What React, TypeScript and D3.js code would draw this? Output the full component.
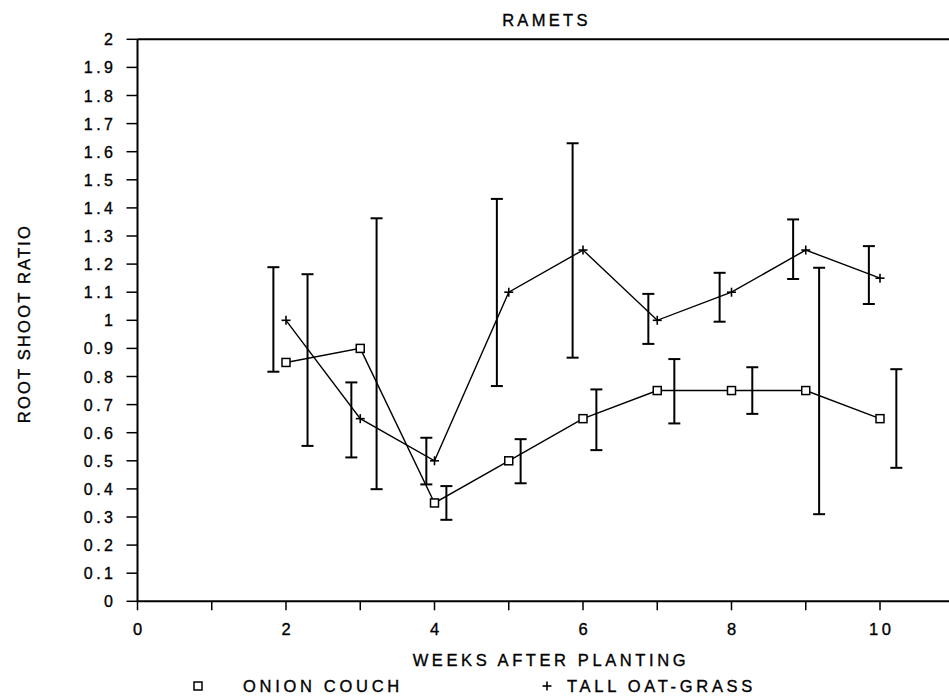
import React from "react";
import * as d3 from "d3";

const weeks = [2, 3, 4, 5, 6, 7, 8, 9, 10];
const onionCouch = [0.85, 0.9, 0.35, 0.5, 0.65, 0.75, 0.75, 0.75, 0.65];
const tallOatGrass = [1.0, 0.65, 0.5, 1.1, 1.25, 1.0, 1.1, 1.25, 1.15];

// error bars (drawn slightly offset in x, as in the original plot)
const onionBarX = [2.29, 3.22, 4.16, 5.16, 6.18, 7.23, 8.28, 9.18, 10.22];
const onionLo = [0.553, 0.399, 0.29, 0.42, 0.538, 0.633, 0.667, 0.31, 0.475];
const onionHi = [1.164, 1.363, 0.41, 0.577, 0.754, 0.862, 0.833, 1.187, 0.826];

const oatBarX = [1.83, 2.88, 3.89, 4.84, 5.86, 6.88, 7.84, 8.83, 9.85];
const oatLo = [0.817, 0.512, 0.416, 0.766, 0.867, 0.916, 0.995, 1.147, 1.058];
const oatHi = [1.189, 0.779, 0.582, 1.432, 1.63, 1.094, 1.169, 1.359, 1.264];

const xTicks = d3.range(0, 12, 1);
const xTickLabels = ["0", "2", "4", "6", "8", "10"];
const yTicks = d3.range(0, 21, 1).map((d) => d / 10);

const title = "RAMETS";
const xTitle = "WEEKS AFTER PLANTING";
const yTitle = "ROOT SHOOT RATIO";
const legendLabels = ["ONION COUCH", "TALL OAT-GRASS"];

export default function App() {
  const W = 949;
  const H = 697;
  const x = d3.scaleLinear().domain([0, 11]).range([137.5, 137.5 + 11 * 74.25]);
  const y = d3.scaleLinear().domain([0, 2]).range([601.3, 39.3]);
  const font = "'Liberation Sans', Arial, sans-serif";

  const line = d3
    .line<number>()
    .x((_, i) => x(weeks[i]))
    .y((d) => y(d));

  const cap = 6;
  const ls = 3.5;
  const ts = { stroke: "#000", strokeWidth: 0.35 };

  const bar = (bx: number, lo: number, hi: number, k: string) => (
    <g key={k} stroke="#000" strokeWidth={2} fill="none">
      <line x1={x(bx)} x2={x(bx)} y1={y(lo)} y2={y(hi)} />
      <line x1={x(bx) - cap} x2={x(bx) + cap} y1={y(lo)} y2={y(lo)} />
      <line x1={x(bx) - cap} x2={x(bx) + cap} y1={y(hi)} y2={y(hi)} />
    </g>
  );

  const square = (cx: number, cy: number, k: string) => (
    <rect key={k} x={cx - 4} y={cy - 4} width={8} height={8} fill="#fff" stroke="#000" strokeWidth={1.5} />
  );
  const plus = (cx: number, cy: number, k: string) => (
    <g key={k} stroke="#000" strokeWidth={1.6}>
      <line x1={cx - 4.5} x2={cx + 4.5} y1={cy} y2={cy} />
      <line x1={cx} x2={cx} y1={cy - 4.5} y2={cy + 4.5} />
    </g>
  );

  return (
    <svg
      width={W}
      height={H}
      style={{ position: "absolute", left: 0, top: 0, background: "#fff" }}
      fontFamily={font}
    >
      <rect x={0} y={0} width={W} height={H} fill="#fff" />
      {/* title */}
      <text x={544.7 + 1.75} y={26} textAnchor="middle" fontSize={16.5} letterSpacing={3.3} fill="#000" {...ts}>
        {title}
      </text>

      {/* axes */}
      <line x1={x(0)} x2={W} y1={y(2)} y2={y(2)} stroke="#000" strokeWidth={2} />
      <line x1={x(0)} x2={x(0)} y1={y(2)} y2={y(0)} stroke="#000" strokeWidth={2} />
      <line x1={x(0)} x2={W} y1={y(0)} y2={y(0)} stroke="#000" strokeWidth={2} />

      {yTicks.map((t) => (
        <g key={"yt" + t}>
          <line x1={x(0) - 11} x2={x(0)} y1={y(t)} y2={y(t)} stroke="#000" strokeWidth={1.5} />
          <text
            x={113 + ls}
            y={y(t) + 6}
            textAnchor="end"
            fontSize={16}
            letterSpacing={ls}
            fill="#000"
            {...ts}
          >
            {String(t)}
          </text>
        </g>
      ))}

      {xTicks.map((t) => (
        <line key={"xt" + t} x1={x(t)} x2={x(t)} y1={y(0)} y2={y(0) + 9} stroke="#000" strokeWidth={1.5} />
      ))}
      {xTickLabels.map((l) => (
        <text
          key={"xl" + l}
          x={x(+l) + ls / 2}
          y={635}
          textAnchor="middle"
          fontSize={16.5}
          letterSpacing={ls}
          fill="#000"
          {...ts}
        >
          {l}
        </text>
      ))}

      <text x={549 + 1.9} y={665.5} textAnchor="middle" fontSize={16.5} letterSpacing={3.6} fill="#000" {...ts}>
        {xTitle}
      </text>
      <text
        transform="translate(29.5,323.5) rotate(-90)"
        textAnchor="middle"
        fontSize={16.5}
        letterSpacing={2.2}
        fill="#000"
        {...ts}
      >
        {yTitle}
      </text>

      {/* error bars */}
      {weeks.map((_, i) => bar(oatBarX[i], oatLo[i], oatHi[i], "ob" + i))}
      {weeks.map((_, i) => bar(onionBarX[i], onionLo[i], onionHi[i], "nb" + i))}

      {/* series lines */}
      <path d={line(onionCouch) || ""} fill="none" stroke="#000" strokeWidth={1.4} />
      <path d={line(tallOatGrass) || ""} fill="none" stroke="#000" strokeWidth={1.4} />

      {onionCouch.map((v, i) => square(x(weeks[i]), y(v), "sq" + i))}
      {tallOatGrass.map((v, i) => plus(x(weeks[i]), y(v), "pl" + i))}

      {/* legend */}
      {square(198, 686, "lsq")}
      <text x={243} y={692} fontSize={16.5} letterSpacing={3.7} fill="#000" {...ts}>
        {legendLabels[0]}
      </text>
      {plus(547, 686, "lpl")}
      <text x={567} y={692} fontSize={16.5} letterSpacing={3.7} fill="#000" {...ts}>
        {legendLabels[1]}
      </text>
    </svg>
  );
}
